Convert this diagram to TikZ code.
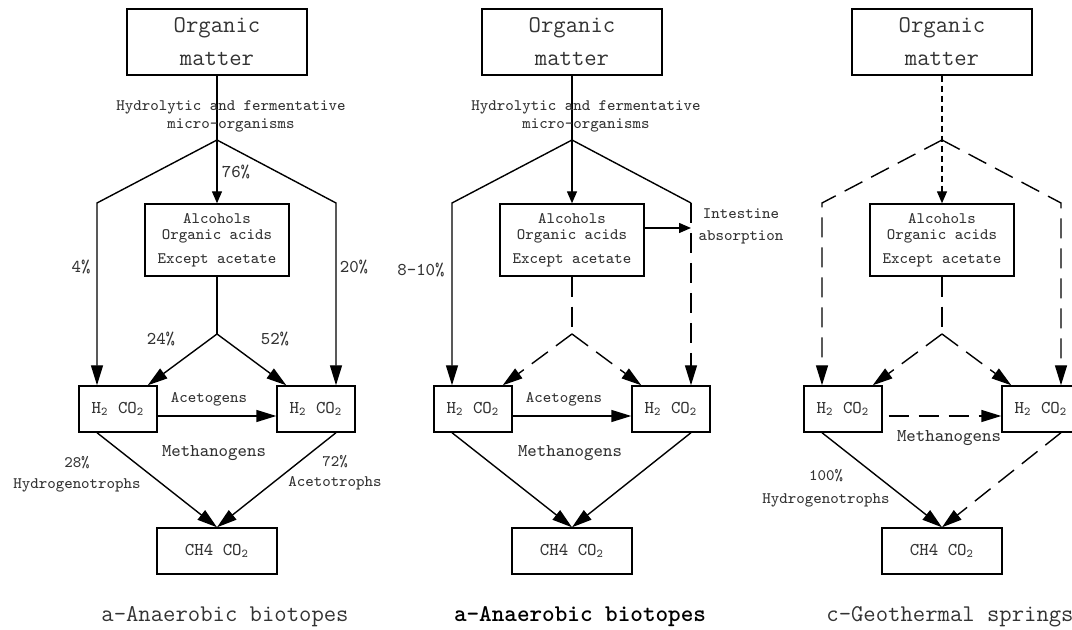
\documentclass[tikz,border=0pt]{standalone}
\usetikzlibrary{arrows.meta,positioning,calc}
\tikzstyle{box} = [draw, line width=0.7pt, inner sep=1pt, align=center]
\tikzstyle{arrow} = [-{Triangle[length=10pt,width=6pt]}, line width=0.7pt]
\tikzstyle{smallarrow} = [-{Triangle[length=6pt,width=5pt]}, line width=0.7pt]
\tikzstyle{longdash} = [dash pattern=on 10pt off 5pt]
\tikzstyle{finedash} = [dash pattern=on 3pt off 2pt]
\tikzstyle{lbl} = [align=center, font=\ttfamily\fontsize{8}{9}\selectfont]
\begin{document}
\begin{tikzpicture}[x=0.5pt,y=-0.5pt,font=\ttfamily\fontsize{9}{10}\selectfont,text=black!80,line width=0.7pt]
\useasboundingbox (0,0) rectangle (1072,630);
\clip (0,0) rectangle (1072,630);
% boxes shared by the three panels
\foreach \cx/\P/\cap in {217/a/{a-Anaerobic biotopes},572/b/{\color{black}\bfseries a-Anaerobic biotopes},942/c/{c-Geothermal springs}}
  {
  \node[box, minimum width=90pt, minimum height=33pt, font=\ttfamily\fontsize{12}{16.5}\selectfont] (org-\P) at (\cx,42) {Organic\\matter};
  \node[box, minimum width=72pt, minimum height=36pt, font=\ttfamily\fontsize{8}{8}\selectfont] (alc-\P) at (\cx,240) {Alcohols\\Organic acids\\[4pt]Except acetate};
  \node[box, minimum width=39pt, minimum height=23pt] (hl-\P) at (\cx-99,409) {H\textsubscript{2} CO\textsubscript{2}};
  \node[box, minimum width=39pt, minimum height=23pt] (hr-\P) at (\cx+99,409) {H\textsubscript{2} CO\textsubscript{2}};
  \node[box, minimum width=60pt, minimum height=23pt] (ch-\P) at (\cx,551) {CH4 CO\textsubscript{2}};
  \node[font=\ttfamily\fontsize{12}{14}\selectfont] (cap-\P) at (\cx+8,617) {\cap};
  \coordinate (s1-\P) at (\cx,140);
  \coordinate (s2-\P) at (\cx,334);
  \coordinate (sl-\P) at (\cx-120,203);
  \coordinate (sr-\P) at (\cx+119,203);
  }

% a
\draw[smallarrow] (org-a.south) -- (alc-a.north);
\draw[arrow] (s1-a) -- (sl-a) -- (sl-a |- hl-a.north);
\draw[arrow] (s1-a) -- (sr-a) -- (sr-a |- hr-a.north);
\draw (alc-a.south) -- (s2-a);
\draw[arrow] (s2-a) -- ([xshift=-5pt]hl-a.north east);
\draw[arrow] (s2-a) -- ([xshift=5pt]hr-a.north west);
\draw[arrow] ([yshift=-3.5pt]hl-a.east) -- ([yshift=-3.5pt]hr-a.west);
\draw[arrow] (sl-a |- hl-a.south) -- (ch-a.north);
\draw[arrow] (sr-a |- hr-a.south) -- (ch-a.north);
\node[lbl] (hyd-a) at (231,116) {Hydrolytic and fermentative\\micro-organisms};
\node (p76-a) at (236,172) {76\%};
\node (p4-a) at (81,267) {4\%};
\node (p20-a) at (354,267) {20\%};
\node (p24-a) at (161,339) {24\%};
\node (p52-a) at (275,339) {52\%};
\node[lbl] (acg-a) at (209,399) {Acetogens};
\node (mth-a) at (214,453) {Methanogens};
\node[lbl, font=\ttfamily\fontsize{8}{10.5}\selectfont] (hyt-a) at (77,474) {28\%\\Hydrogenotrophs};
\node[lbl, font=\ttfamily\fontsize{8}{10}\selectfont] (act-a) at (335,473) {72\%\\Acetotrophs};

% b
\draw[smallarrow] (org-b.south) -- (alc-b.north);
\draw[arrow] (s1-b) -- (sl-b) -- (sl-b |- hl-b.north);
\draw (s1-b) -- (sr-b);
\draw[arrow, longdash] (sr-b) -- (sr-b |- hr-b.north);
\coordinate (ia-b) at ([yshift=6pt]alc-b.east);
\draw[smallarrow] (ia-b) -- (ia-b -| sr-b);
\draw[longdash] (alc-b.south) -- (s2-b);
\draw[arrow, longdash] (s2-b) -- ([xshift=-5pt]hl-b.north east);
\draw[arrow, longdash] (s2-b) -- ([xshift=5pt]hr-b.north west);
\draw[arrow] ([yshift=-3.5pt]hl-b.east) -- ([yshift=-3.5pt]hr-b.west);
\draw[arrow] (sl-b |- hl-b.south) -- (ch-b.north);
\draw[arrow] (sr-b |- hr-b.south) -- (ch-b.north);
\node[lbl] (hyd-b) at (586,116) {Hydrolytic and fermentative\\micro-organisms};
\node (p810-b) at (421,270) {8-10\%};
\node[lbl, font=\ttfamily\fontsize{8}{11}\selectfont] (int-b) at (741,226) {Intestine\\absorption};
\node[lbl] (acg-b) at (564,399) {Acetogens};
\node (mth-b) at (570,453) {Methanogens};

% c
\draw[smallarrow, finedash] (org-c.south) -- (alc-c.north);
\draw[arrow, longdash] (s1-c) -- (sl-c) -- (sl-c |- hl-c.north);
\draw[arrow, longdash] (s1-c) -- (sr-c) -- (sr-c |- hr-c.north);
\draw[longdash] (alc-c.south) -- (s2-c);
\draw[arrow, longdash] (s2-c) -- ([xshift=-5pt]hl-c.north east);
\draw[arrow, longdash] (s2-c) -- ([xshift=5pt]hr-c.north west);
\draw[arrow, longdash] ([xshift=3pt,yshift=-3.5pt]hl-c.east) -- ([yshift=-3.5pt]hr-c.west);
\draw[arrow] (sl-c |- hl-c.south) -- (ch-c.north);
\draw[arrow, longdash] (sr-c |- hr-c.south) -- (ch-c.north);
\node (mth-c) at (949,438) {Methanogens};
\node[lbl, font=\ttfamily\fontsize{8}{11.5}\selectfont] (hyt-c) at (826,488) {100\%\\Hydrogenotrophs};
\end{tikzpicture}
\end{document}
